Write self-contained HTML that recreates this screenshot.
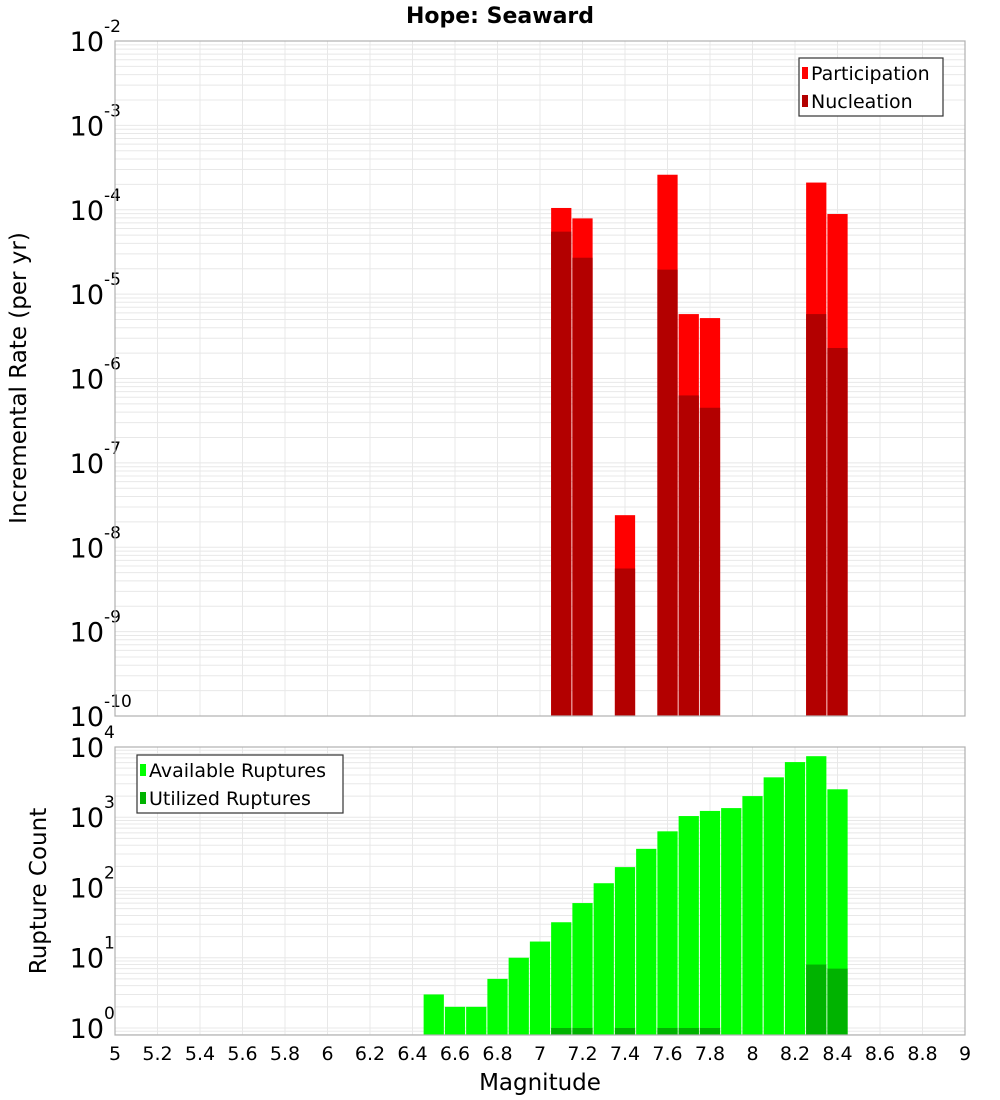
<!DOCTYPE html>
<html><head><meta charset="utf-8"><style>
body{margin:0;background:#fff}
svg{display:block;font-family:"DejaVu Sans","Liberation Sans",sans-serif}
</style></head><body>
<svg id="c" width="1000" height="1100" xmlns="http://www.w3.org/2000/svg">
<text x="500" y="23" text-anchor="middle" font-size="22" font-weight="bold">Hope: Seaward</text>
<g id="top"></g>
<g id="bot"></g>
<text transform="translate(26,378) rotate(-90)" text-anchor="middle" font-size="23">Incremental Rate (per yr)</text>
<text transform="translate(46,891) rotate(-90)" text-anchor="middle" font-size="23">Rupture Count</text>
<text x="540" y="1090" text-anchor="middle" font-size="23">Magnitude</text>
</svg>
<script>
const rateMags=[7.1,7.2,7.4,7.6,7.7,7.8,8.3,8.4];
const participation=[1.05e-4,7.9e-5,2.4e-8,2.6e-4,5.8e-6,5.2e-6,2.1e-4,8.9e-5];
const nucleation=[5.5e-5,2.7e-5,5.6e-9,1.95e-5,6.3e-7,4.5e-7,5.8e-6,2.3e-6];
const countMags=[6.5,6.6,6.7,6.8,6.9,7.0,7.1,7.2,7.3,7.4,7.5,7.6,7.7,7.8,7.9,8.0,8.1,8.2,8.3,8.4];
const available=[3,2,2,5,10,17,32,60,115,195,355,630,1040,1230,1350,2000,3700,6100,7400,2500];
const utilMags=[7.1,7.2,7.4,7.6,7.7,7.8,8.3,8.4];
const utilized=[1,1,1,1,1,1,8,7];
const xTicks=[5,5.2,5.4,5.6,5.8,6,6.2,6.4,6.6,6.8,7,7.2,7.4,7.6,7.8,8,8.2,8.4,8.6,8.8,9];
const topDecades=[-2,-3,-4,-5,-6,-7,-8,-9,-10];
const botDecades=[4,3,2,1,0];

const NS="http://www.w3.org/2000/svg";
const X0=115,X1=965;
const x=m=>X0+(m-5)/4*(X1-X0);
const BW=(X1-X0)/40;
function el(p,t,a){const e=document.createElementNS(NS,t);for(const k in a)e.setAttribute(k,a[k]);p.appendChild(e);return e;}
function plot(g,top,bot,lmax,lmin,decades,name){
  const y=v=>top+(lmax-Math.log10(v))/(lmax-lmin)*(bot-top);
  const grid=el(g,'g',{});
  
  
  for(let d=Math.floor(lmin);d<lmax;d++)for(let k=1;k<10;k++){
    const v=k*Math.pow(10,d);const yy=y(v);
    if(yy<top-0.5||yy>bot+0.5)continue;
    el(grid,'line',{x1:X0,x2:X1,y1:yy,y2:yy,stroke:'#e8e8e8','stroke-width':1});
  }
  xTicks.forEach(t=>el(grid,'line',{x1:x(t),x2:x(t),y1:top,y2:bot,stroke:'#e8e8e8','stroke-width':1}));
  decades.forEach(d=>{
    const t=el(g,'text',{x:104,y:y(Math.pow(10,d))+10,'text-anchor':'end','font-size':27});
    
    
    t.textContent='10';
    const s=el(g,'text',{x:104,y:y(Math.pow(10,d))-9,'font-size':17});
    
    
    s.textContent=String(d);
  });
  return {y,bars:el(g,'g',{}),frame:()=>el(g,'rect',{x:X0,y:top,width:X1-X0,height:bot-top,fill:'none',stroke:'#b0b0b0','stroke-width':1.2})};
}
function bars(P,mags,vals,color,bot,name){
  mags.forEach((m,i)=>{
    const yy=P.y(vals[i]);
    const r=el(P.bars,'rect',{x:x(m-0.05)+0.5,y:yy,width:BW-1,height:bot-yy,fill:color});
    
    
  });
}
function legend(g,lx,ly,w,items,name){
  const lg=el(g,'g',{});
  
  
  el(lg,'rect',{x:lx,y:ly,width:w,height:58,fill:'#fff',stroke:'#333','stroke-width':1.2});
  items.forEach((it,i)=>{
    el(lg,'rect',{x:lx+3,y:ly+9+i*28,width:6,height:12,fill:it[1]});
    const t=el(lg,'text',{x:lx+12,y:ly+22+i*28,'font-size':19});
    
    
    t.textContent=it[0];
  });
}
const gt=document.getElementById('top'),gb=document.getElementById('bot');
const T=plot(gt,41,716,-2,-10,topDecades,'rate');
bars(T,rateMags,participation,'#ff0000',716,'participation');
bars(T,rateMags,nucleation,'#b30000',716,'nucleation');
T.frame();
legend(gt,799,58,144,[['Participation','#ff0000'],['Nucleation','#b30000']],'rate-legend');
const B=plot(gb,747,1035,4,-0.1,botDecades,'count');
bars(B,countMags,available,'#00ff00',1035,'available');
bars(B,utilMags,utilized,'#00b300',1035,'utilized');
B.frame();
legend(gb,137,755,206,[['Available Ruptures','#00ff00'],['Utilized Ruptures','#00b300']],'count-legend');
xTicks.forEach(t=>{
  const e=el(gb,'text',{x:x(t),y:1060,'text-anchor':'middle','font-size':19});
  
  
  e.textContent=String(t);
});
</script>
</body></html>
